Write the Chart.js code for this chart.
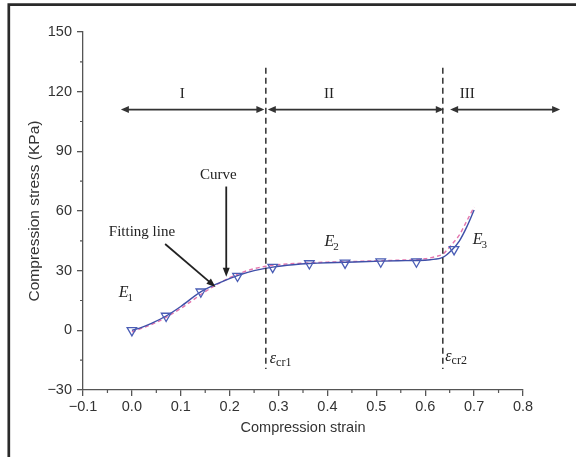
<!DOCTYPE html>
<html>
<head>
<meta charset="utf-8">
<script src="https://cdn.jsdelivr.net/npm/chart.js@4"></script>
<style>
html,body{margin:0;padding:0;background:#fff;}
#wrap{position:relative;width:576px;height:457px;}
</style>
</head>
<body>
<div id="wrap"><canvas id="c" width="576" height="457"></canvas></div>
<script>
// ---- data ----
const measuredStrain = [0.0, 0.07, 0.141, 0.216, 0.288, 0.363, 0.436, 0.509, 0.582, 0.659];
const measuredStress = [0.0, 7.2, 19.4, 27.3, 31.8, 33.6, 33.9, 34.5, 34.5, 40.7];

const curveStrain = [0.0, 0.02, 0.04, 0.07, 0.10, 0.14, 0.18, 0.216, 0.25, 0.288, 0.33, 0.363, 0.40, 0.436, 0.47, 0.509, 0.545, 0.582, 0.61, 0.637, 0.655, 0.67, 0.685, 0.70];
const curveStress = [0.0, 1.5, 3.5, 7.2, 12.0, 19.2, 24.0, 27.5, 30.0, 31.8, 33.0, 33.6, 34.0, 34.2, 34.5, 34.8, 35.0, 35.1, 35.5, 36.8, 40.5, 45.0, 52.0, 60.5];

const fitStrain = [0.0, 0.05, 0.10, 0.15, 0.20, 0.25, 0.30, 0.35, 0.40, 0.45, 0.50, 0.55, 0.60, 0.62, 0.637, 0.65, 0.67, 0.685, 0.70];
const fitStress = [-0.8, 4.0, 11.0, 19.5, 26.5, 31.0, 33.0, 33.8, 34.3, 34.6, 35.0, 35.3, 36.0, 37.0, 38.5, 42.0, 48.0, 55.0, 62.0];

const xTicks = [-0.1, 0.0, 0.1, 0.2, 0.3, 0.4, 0.5, 0.6, 0.7, 0.8];
const yTicks = [-30, 0, 30, 60, 90, 120, 150];
const stageLabels = ['I', 'II', 'III'];
const criticalStrain = [0.274, 0.636];

const toPts = (xs, ys) => xs.map((x, i) => ({x: x, y: ys[i]}));
const fmtX = v => (v < -1e-9 ? '\u2212' : '') + Math.abs(v).toFixed(1);
const fmtY = v => (v < 0 ? '\u2212' : '') + Math.abs(Math.round(v));

const SERIF = '"Liberation Serif", "DejaVu Serif", serif';
const SANS = '"Liberation Sans", Arial, sans-serif';

function arrowHead(ctx, x, y, dir) {
  ctx.beginPath();
  ctx.moveTo(x, y);
  ctx.lineTo(x - dir * 8, y - 3.5);
  ctx.lineTo(x - dir * 8, y + 3.5);
  ctx.closePath();
  ctx.fill();
}
function arrowHeadDir(ctx, x1, y1, x2, y2) {
  const a = Math.atan2(y2 - y1, x2 - x1);
  const L = 9, W = 3.5;
  ctx.beginPath();
  ctx.moveTo(x2, y2);
  ctx.lineTo(x2 - L * Math.cos(a) + W * Math.sin(a), y2 - L * Math.sin(a) - W * Math.cos(a));
  ctx.lineTo(x2 - L * Math.cos(a) - W * Math.sin(a), y2 - L * Math.sin(a) + W * Math.cos(a));
  ctx.closePath();
  ctx.fill();
}

const decor = {
  id: 'decor',
  beforeDraw(chart) {
    const ctx = chart.ctx;
    ctx.save();
    ctx.fillStyle = '#fff';
    ctx.fillRect(0, 0, chart.width, chart.height);
    ctx.strokeStyle = '#2a2a2a';
    ctx.lineWidth = 2.7;
    ctx.beginPath();
    ctx.moveTo(576, 4.7);
    ctx.lineTo(8.8, 4.7);
    ctx.lineTo(8.8, 457);
    ctx.stroke();
    ctx.restore();
  },
  afterDraw(chart) {
    const ctx = chart.ctx;
    const xs = chart.scales.x, ys = chart.scales.y;
    const X = v => xs.getPixelForValue(v), Y = v => ys.getPixelForValue(v);
    ctx.save();
    // minor ticks
    ctx.strokeStyle = '#555';
    ctx.lineWidth = 1.2;
    ctx.beginPath();
    for (let i = 0; i < xTicks.length - 1; i++) {
      const v = (xTicks[i] + xTicks[i + 1]) / 2;
      const px = X(v);
      ctx.moveTo(px, ys.bottom); ctx.lineTo(px, ys.bottom + 3);
    }
    for (let i = 0; i < yTicks.length - 1; i++) {
      const v = (yTicks[i] + yTicks[i + 1]) / 2;
      const py = Y(v);
      ctx.moveTo(xs.left, py); ctx.lineTo(xs.left - 3, py);
    }
    ctx.stroke();

    // vertical dashed lines
    ctx.strokeStyle = '#222';
    ctx.lineWidth = 1.4;
    ctx.setLineDash([6, 4]);
    criticalStrain.forEach(c => {
      ctx.beginPath();
      ctx.moveTo(X(c), Y(132));
      ctx.lineTo(X(c), Y(-19.5));
      ctx.stroke();
    });
    ctx.setLineDash([]);

    // stage arrows
    ctx.strokeStyle = '#333';
    ctx.fillStyle = '#333';
    ctx.lineWidth = 1.8;
    const ay = Y(111);
    const segs = [[-0.0225, 0.271], [0.278, 0.638], [0.651, 0.876]];
    segs.forEach(s => {
      const x1 = X(s[0]), x2 = X(s[1]);
      ctx.beginPath();
      ctx.moveTo(x1 + 3, ay); ctx.lineTo(x2 - 3, ay);
      ctx.stroke();
      arrowHead(ctx, x1, ay, -1);
      arrowHead(ctx, x2, ay, 1);
    });

    // stage labels
    ctx.fillStyle = '#222';
    ctx.font = '15px ' + SERIF;
    ctx.textAlign = 'center';
    ctx.textBaseline = 'middle';
    const stageX = [0.103, 0.403, 0.686];
    stageLabels.forEach((t, i) => ctx.fillText(t, X(stageX[i]), Y(118.7)));

    // Curve / Fitting line labels and arrows
    ctx.fillText('Curve', X(0.177), Y(78));
    ctx.fillText('Fitting line', X(0.0206), Y(49.4));
    ctx.strokeStyle = '#222';
    ctx.fillStyle = '#222';
    ctx.lineWidth = 1.8;
    let x1 = X(0.193), y1 = Y(72.3), x2 = X(0.193), y2 = Y(27.0);
    ctx.beginPath(); ctx.moveTo(x1, y1); ctx.lineTo(x2, y2 - 6); ctx.stroke();
    arrowHeadDir(ctx, x1, y1, x2, y2);
    x1 = X(0.068); y1 = Y(43.4); x2 = X(0.171); y2 = Y(21.8);
    const a = Math.atan2(y2 - y1, x2 - x1);
    ctx.beginPath(); ctx.moveTo(x1, y1); ctx.lineTo(x2 - 6 * Math.cos(a), y2 - 6 * Math.sin(a)); ctx.stroke();
    arrowHeadDir(ctx, x1, y1, x2, y2);

    // E labels
    const eLab = (sub, xv, yv) => {
      ctx.textAlign = 'left';
      ctx.textBaseline = 'middle';
      ctx.font = 'italic 16px ' + SERIF;
      const px = X(xv), py = Y(yv);
      ctx.fillText('E', px, py);
      const w = ctx.measureText('E').width;
      ctx.font = '11px ' + SERIF;
      ctx.fillText(sub, px + w - 1, py + 5);
    };
    eLab('1', -0.027, 18.9);
    eLab('2', 0.394, 44.5);
    eLab('3', 0.697, 45.6);

    // critical strain labels
    const epsLab = (sub, xv, yv) => {
      ctx.textAlign = 'left';
      ctx.textBaseline = 'middle';
      ctx.font = 'italic 16px ' + SERIF;
      const px = X(xv), py = Y(yv);
      ctx.fillText('\u03b5', px, py);
      const w = ctx.measureText('\u03b5').width;
      ctx.font = '12px ' + SERIF;
      ctx.fillText(sub, px + w, py + 4);
    };
    epsLab('cr1', 0.282, -14.5);
    epsLab('cr2', 0.641, -13.2);
    ctx.restore();
  }
};

new Chart(document.getElementById('c'), {
  type: 'scatter',
  data: {
    datasets: [
      {
        label: 'Fitting line',
        data: toPts(fitStrain, fitStress),
        showLine: true,
        borderColor: '#e374ad',
        borderWidth: 1.4,
        borderDash: [4, 3],
        pointRadius: 0,
        cubicInterpolationMode: 'monotone',
        order: 3
      },
      {
        label: 'Curve',
        data: toPts(curveStrain, curveStress),
        showLine: true,
        borderColor: '#3f4fa8',
        borderWidth: 1.4,
        pointRadius: 0,
        cubicInterpolationMode: 'monotone',
        order: 2
      },
      {
        label: 'Measured',
        data: toPts(measuredStrain, measuredStress),
        showLine: false,
        pointStyle: 'triangle',
        rotation: 180,
        pointRadius: 5.5,
        borderColor: '#4a5db5',
        backgroundColor: 'rgba(255,255,255,0)',
        borderWidth: 1.3,
        order: 1
      }
    ]
  },
  options: {
    responsive: false,
    animation: false,
    layout: {padding: {left: 10, right: 53, top: 32, bottom: 10}},
    plugins: {legend: {display: false}, tooltip: {enabled: false}},
    scales: {
      x: {
        type: 'linear',
        min: -0.1, max: 0.8,
        afterFit: s => { s.height = 57; },
        afterBuildTicks: s => { s.ticks = xTicks.map(v => ({value: v})); },
        border: {display: true, color: '#555', width: 1.3},
        grid: {drawOnChartArea: false, drawTicks: true, tickLength: 6, color: '#555', lineWidth: 1.3},
        ticks: {callback: v => fmtX(v), color: '#333', font: {family: SANS, size: 14.5}, padding: 2, maxRotation: 0},
        title: {display: true, text: 'Compression strain', color: '#333', font: {family: SANS, size: 14.5}, padding: {top: 0, bottom: 10}}
      },
      y: {
        type: 'linear',
        min: -30, max: 150,
        afterFit: s => { s.width = 73; },
        afterBuildTicks: s => { s.ticks = yTicks.map(v => ({value: v})); },
        border: {display: true, color: '#555', width: 1.3},
        grid: {drawOnChartArea: false, drawTicks: true, tickLength: 6, color: '#555', lineWidth: 1.3},
        ticks: {callback: v => fmtY(v), color: '#333', font: {family: SANS, size: 14.5}, padding: 5},
        title: {display: true, text: 'Compression stress (KPa)', color: '#333', font: {family: SANS, size: 15.5}, padding: {top: 15.5, bottom: 0}}
      }
    }
  },
  plugins: [decor]
});
</script>
</body>
</html>
